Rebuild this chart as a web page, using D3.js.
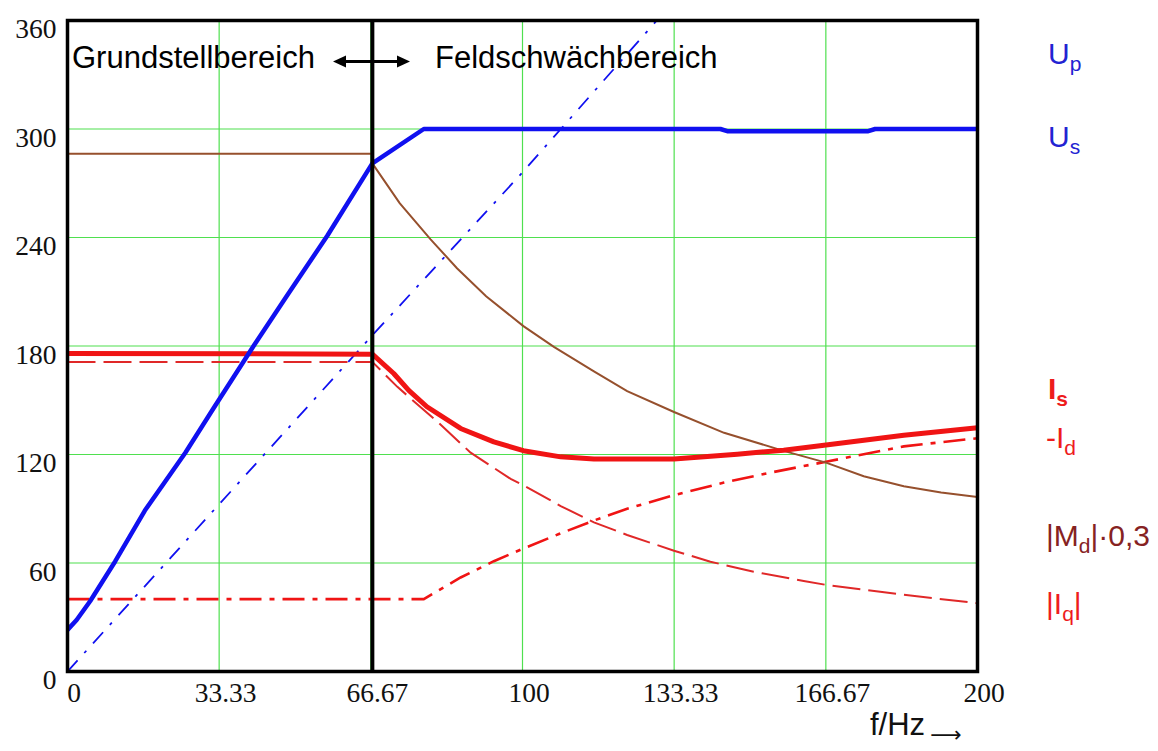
<!DOCTYPE html>
<html>
<head>
<meta charset="utf-8">
<script src="https://cdn.jsdelivr.net/npm/d3@7"></script>
<style>
  html, body { margin: 0; padding: 0; background: #fff; }
  svg { display: block; }
</style>
</head>
<body>
<svg id="chart" width="1158" height="751"></svg>
<script>
// ---------- data ----------
const xTicks = [0, 33.33, 66.67, 100, 133.33, 166.67, 200];
const xTickLabels = ["0", "33.33", "66.67", "100", "133.33", "166.67", "200"];
const yTicks = [0, 60, 120, 180, 240, 300, 360];
const yTickLabels = ["0", "60", "120", "180", "240", "300", "360"];
const boundaryF = 67;

// U_s  (f, V)
const usData = [[0,23],[2,28.5],[5,39],[10.5,61],[17,89],[25.9,121],[32.2,146],[41,180.4],[48.3,208],[57.1,241],[67,281],[78.3,300],[143.5,300],[145,298.8],[176,298.8],[177.5,300],[200,300]];
// U_p
const upData = [[0,0],[66.67,185],[100,276],[129.5,360]];
// |M_d|*0,3
const mdData = [[0,286.3],[67,286.3],[67,281],[73,259],[79.8,239],[85.6,223],[92,207.5],[100.2,191],[106.9,179.5],[115.7,166],[123,155],[133.3,143.5],[144.3,132],[157.4,122],[166.7,115.5],[175,108],[183.8,102.5],[192,99],[200,96.5]];
// I_s
const isData = [[0,175.9],[67,175.5],[71.7,164.8],[75,155.5],[79,146.4],[86.4,134.4],[93.7,127],[100.2,122.1],[108.4,118.7],[115.7,117.5],[133.3,117.5],[147.2,120.2],[157.4,122.4],[166.7,125.2],[183.8,130.7],[200,134.8]];
// -I_d
const idData = [[0,171.2],[67,171.2],[72.5,157.4],[81.3,138.1],[88.6,121],[97.4,106.5],[100.2,103],[108.4,91.5],[115.7,82.5],[123,75.5],[133.3,66.8],[141.3,60.7],[150.8,55.2],[161.8,50.1],[166.7,47.9],[183.8,42.4],[200,37.8]];
// |I_q|
const iqData = [[0,40],[78.3,40],[86.4,52],[93.7,61],[100.2,68],[108,76],[115.7,83.5],[123,90],[133.3,97.5],[144.3,104.5],[154.5,110],[166.7,116],[183.8,124.5],[200,129]];

// ---------- setup ----------
const svg = d3.select("#chart");
const x = d3.scaleLinear().domain([0, 200]).range([67.5, 977.5]);
const y = d3.scaleLinear().domain([0, 360]).range([671.5, 20.5]);

const green = "#4fe04f";
const blue = "#1010f0";
const red = "#f01414";
const brown = "#96502d";

svg.append("defs").append("clipPath").attr("id", "clip")
  .append("rect").attr("x", x(0)).attr("y", y(360)).attr("width", x(200) - x(0)).attr("height", y(0) - y(360));

// grid
const grid = svg.append("g");
grid.selectAll("line.v").data(xTicks.filter(d => d > 0 && d < 200)).join("line")
  .attr("x1", d => x(d)).attr("x2", d => x(d)).attr("y1", y(0)).attr("y2", y(360))
  .attr("stroke", green).attr("stroke-width", 1.2);
grid.selectAll("line.h").data(yTicks.filter(d => d > 0 && d < 360)).join("line")
  .attr("x1", x(0)).attr("x2", x(200)).attr("y1", d => y(d)).attr("y2", d => y(d))
  .attr("stroke", green).attr("stroke-width", 1.2);

// axes (labels via d3 axis)
const yAxis = svg.append("g").attr("transform", `translate(${x(0) - 11},0)`)
  .call(d3.axisLeft(y).tickValues(yTicks).tickFormat((d, i) => yTickLabels[i]).tickSize(0).tickPadding(0));
yAxis.select(".domain").remove();
yAxis.selectAll("text").attr("font-family", "'Liberation Serif', 'Times New Roman', serif")
  .attr("font-size", 27.5).attr("fill", "#111").attr("dy", "0.62em");

const xAxis = svg.append("g").attr("transform", `translate(6,${y(0)})`)
  .call(d3.axisBottom(x).tickValues(xTicks).tickFormat((d, i) => xTickLabels[i]).tickSize(0).tickPadding(0));
xAxis.select(".domain").remove();
xAxis.selectAll("text").attr("font-family", "'Liberation Serif', 'Times New Roman', serif")
  .attr("font-size", 27.5).attr("fill", "#111").attr("dy", "1.1em");

// curves
const line = d3.line().x(d => x(d[0])).y(d => y(d[1]));
const curves = svg.append("g").attr("clip-path", "url(#clip)");

curves.append("path").datum(iqData).attr("d", line).attr("fill", "none")
  .attr("stroke", red).attr("stroke-width", 2.6).attr("stroke-dasharray", "22,8,5,8");
curves.append("path").datum(idData).attr("d", line).attr("fill", "none")
  .attr("stroke", "#e02828").attr("stroke-width", 2).attr("stroke-dasharray", "28,8");
curves.append("path").datum(mdData).attr("d", line).attr("fill", "none")
  .attr("stroke", brown).attr("stroke-width", 2);
curves.append("path").datum(upData).attr("d", line).attr("fill", "none")
  .attr("stroke", blue).attr("stroke-width", 1.8).attr("stroke-dasharray", "15,10,3,10");
curves.append("path").datum(isData).attr("d", line).attr("fill", "none")
  .attr("stroke", red).attr("stroke-width", 5).attr("stroke-linejoin", "round");
curves.append("path").datum(usData).attr("d", line).attr("fill", "none")
  .attr("stroke", blue).attr("stroke-width", 4.5).attr("stroke-linejoin", "round");

// boundary line
svg.append("line").attr("x1", x(boundaryF)).attr("x2", x(boundaryF))
  .attr("y1", y(360)).attr("y2", y(0)).attr("stroke", "#000").attr("stroke-width", 4);

// frame
svg.append("rect").attr("x", x(0)).attr("y", y(360)).attr("width", x(200) - x(0)).attr("height", y(0) - y(360))
  .attr("fill", "none").attr("stroke", "#000").attr("stroke-width", 3.5);

// region annotation
const sans = "'Liberation Sans', Arial, sans-serif";
svg.append("text").attr("x", 72).attr("y", 68).attr("font-family", sans).attr("font-size", 31)
  .attr("fill", "#000").text("Grundstellbereich");
svg.append("text").attr("x", 435).attr("y", 68).attr("font-family", sans).attr("font-size", 31)
  .attr("fill", "#000").text("Feldschwächbereich");
const ay = 61.5;
svg.append("line").attr("x1", 340).attr("x2", 403).attr("y1", ay).attr("y2", ay).attr("stroke", "#000").attr("stroke-width", 3);
svg.append("path").attr("d", `M333,${ay} L346,${ay - 6} L346,${ay + 6} Z`).attr("fill", "#000");
svg.append("path").attr("d", `M410,${ay} L397,${ay - 6} L397,${ay + 6} Z`).attr("fill", "#000");

// x axis title
const xt = svg.append("text").attr("x", 870).attr("y", 735).attr("font-family", sans).attr("font-size", 31).attr("fill", "#111");
xt.append("tspan").text("f/Hz");
xt.append("tspan").attr("dx", 5).attr("dy", 7).attr("font-family", "'DejaVu Sans', sans-serif").attr("font-size", 22).text("⟶");

// legend labels
const legendBlue = "#2323d2";
const legendRed = "#ee1c1c";
const legendBrown = "#862222";
function label(xp, yp, color, parts, bold) {
  const t = svg.append("text").attr("x", xp).attr("y", yp).attr("font-family", sans)
    .attr("font-size", 30).attr("fill", color).attr("font-weight", bold ? "bold" : "normal");
  parts.forEach(p => {
    const s = t.append("tspan").text(p.t);
    if (p.sub) s.attr("font-size", 21).attr("dy", 7);
    if (p.up) s.attr("dy", -7);
  });
}
label(1048, 64, legendBlue, [{t: "U"}, {t: "p", sub: true}]);
label(1048, 147, legendBlue, [{t: "U"}, {t: "s", sub: true}]);
label(1048, 399, legendRed, [{t: "I"}, {t: "s", sub: true}], true);
label(1046, 448, legendRed, [{t: "-I"}, {t: "d", sub: true}]);
label(1046, 546, legendBrown, [{t: "|M"}, {t: "d", sub: true}, {t: "|·0,3", up: true}]);
label(1046, 614, legendRed, [{t: "|I"}, {t: "q", sub: true}, {t: "|", up: true}]);
</script>
</body>
</html>
